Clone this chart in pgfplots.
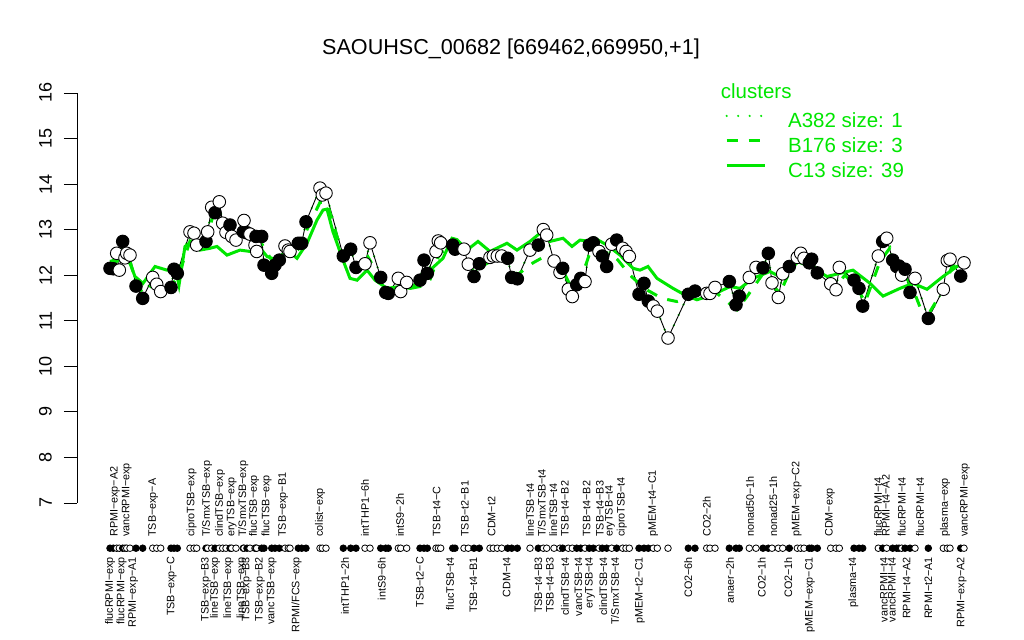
\documentclass[border=0pt]{standalone}
\usepackage{fontspec}
\setmainfont{Liberation Sans}
\usepackage{pgfplots}
\usepackage{pgfplotstable}
\pgfplotsset{compat=1.18}
\definecolor{cgreen}{RGB}{0,230,0}

\pgfplotstableread{
x y f
110 12.15 b
113.3 12.14 b
116.7 12.48 w
119.3 12.11 w
122.7 12.74 b
125 12.38 w
126.7 12.48 w
130 12.44 w
136 11.76 b
142.7 11.49 b
152.7 11.95 w
156.7 11.80 w
160.7 11.64 w
171 11.73 b
174 12.13 b
177.3 12.04 b
190 12.95 w
194 12.92 w
196.7 12.66 w
206 12.74 b
207.7 12.95 w
211.7 13.49 w
215 13.37 b
219.3 13.61 w
222.7 13.14 w
226 12.94 w
230 13.10 b
231.7 12.85 w
236 12.77 w
243.3 12.95 b
244 13.20 w
247 12.93 b
250 12.90 w
255 12.66 w
256 12.85 b
256.7 12.52 w
261.7 12.85 b
264 12.22 b
271.7 12.04 b
275 12.22 b
279.3 12.33 b
285 12.64 w
288.3 12.55 w
290 12.52 w
298.3 12.70 b
301.7 12.70 b
306 13.17 b
320 13.91 w
322.3 13.76 w
326 13.80 w
343.3 12.42 b
350.7 12.57 b
356 12.17 b
365 12.25 w
370 12.71 w
380.7 11.95 b
385.7 11.62 b
388.3 11.60 b
398.3 11.93 w
400.7 11.64 w
406.7 11.84 w
420 11.89 b
424 12.33 b
427.3 12.04 b
436 12.52 w
438.3 12.75 w
440.7 12.71 w
452.7 12.66 b
455 12.57 b
464 12.57 w
468.3 12.24 w
474 11.97 b
479.3 12.25 b
490 12.39 w
493.3 12.42 w
497.3 12.42 w
501.7 12.42 w
507.7 12.37 b
511.7 11.95 b
517.3 11.92 b
530 12.55 w
538.3 12.66 b
543.3 13.00 w
546.7 12.88 w
554 12.31 w
560 12.06 w
562.7 12.15 b
568.3 11.69 w
572.3 11.53 w
576.7 11.79 b
580.7 11.93 b
585 11.86 w
589.3 12.66 b
593.3 12.71 b
599 12.52 w
602.3 12.42 b
606.7 12.19 b
611.7 12.68 w
616.7 12.77 b
622.7 12.59 w
626 12.52 w
629.3 12.41 w
639 11.58 b
644 11.82 b
648.3 11.43 b
653.3 11.32 w
657.3 11.21 w
668 10.62 w
688.3 11.58 b
695 11.65 b
706.7 11.60 w
710 11.60 w
715 11.73 w
729.3 11.86 b
736 11.35 b
739.3 11.54 b
749.3 11.95 w
756 12.17 w
763 12.16 b
768.3 12.48 b
772 11.83 w
778.3 11.51 w
782.7 12.03 w
789.3 12.19 b
797.3 12.39 w
800.7 12.48 w
804 12.37 w
809.3 12.27 b
811.7 12.35 b
817.3 12.05 b
830.7 11.81 w
836 11.68 w
839.3 12.17 w
854 11.89 b
859 11.71 b
862.7 11.32 b
878.3 12.42 w
882.7 12.74 b
886.7 12.81 w
892.7 12.33 b
896.7 12.19 b
899 12.20 b
901.7 12.00 w
905 12.13 b
910 11.62 b
915 11.93 w
928.3 11.05 b
943.3 11.69 w
947.3 12.32 w
950 12.35 w
960.7 11.98 b
964 12.27 w
}\pts

\pgfplotstableread{
x y
110 12.30
120 12.37
130 12.26
135 11.97
143 11.82
155 12.19
167 12.11
175 12.20
179 11.78
185 12.63
192 12.74
200 12.55
210 12.59
217 12.63
227 12.44
240 12.55
250 12.52
260 12.60
267 12.41
277 12.33
287 12.55
297 12.37
307 12.70
317 13.21
323 13.43
327 13.45
333 12.95
343 12.33
350 11.93
357 11.89
367 12.11
375 11.89
387 11.71
400 11.75
410 11.71
420 11.89
430 12.11
443 12.37
452 12.81
457 12.78
467 12.55
478 12.74
490 12.52
507 12.70
517 12.55
530 12.74
540 12.92
550 12.74
563 12.81
572 12.63
580 12.77
587 12.75
595 12.81
607 12.66
620 12.44
633 12.15
640 12.11
648 12.19
657 11.93
673 11.71
687 11.54
697 11.46
713 11.57
730 11.75
740 11.71
753 11.93
770 12.08
783 11.93
797 12.30
810 12.19
827 11.97
840 12.04
853 12.11
870 11.82
883 11.54
900 11.71
913 11.82
927 11.69
943 11.97
957 12.19
964 12.25
}\cthirteen

\pgfplotstableread{
x y
110 12.20
120 12.35
130 12.30
137 11.80
143 11.60
155 11.85
162 11.70
172 11.80
178 11.95
190 12.75
197 12.70
207 12.85
213 13.30
220 13.30
228 12.95
237 12.80
245 12.95
253 12.80
260 12.75
267 12.50
275 12.20
285 12.50
292 12.45
300 12.60
307 13.00
320 13.60
327 13.60
343 12.40
352 12.40
358 12.10
368 12.40
381 11.90
388 11.65
400 11.70
408 11.70
420 11.75
430 11.90
440 12.50
455 12.60
465 12.45
475 12.00
482 12.20
495 12.35
508 12.30
517 12.00
533 12.27
547 12.44
555 12.25
563 12.10
572 11.70
580 11.85
590 12.50
600 12.45
610 12.50
618 12.33
630 12.00
645 11.70
662 11.49
677 11.42
695 11.55
717 11.60
737 11.24
747 11.53
762 12.00
770 11.85
780 11.60
790 12.10
800 12.35
812 12.25
820 12.00
835 11.75
845 12.00
858 11.70
865 11.40
880 12.30
890 12.60
900 12.15
912 11.75
920 11.30
930 11.20
945 11.75
952 12.20
964 12.20
}\bonesix

\begin{document}
\begin{tikzpicture}
\begin{axis}[
  scale only axis, width=913pt, height=410pt,
  xmin=77, xmax=990, ymin=7, ymax=16,
  clip=false,
  axis lines*=left,
  x axis line style={draw=none},
  y axis line style={black, line width=0.8pt},
  ytick={7,8,...,16},
  tick align=outside, major tick length=13pt,
  ytick style={black, line width=0.8pt},
  xtick style={draw=none},
  /pgf/number format/assume math mode=true,
  yticklabel style={xshift=-12pt, rotate=90, anchor=south, inner sep=0pt, font=\fontsize{18}{18}\selectfont},
  xtick={110,121.7,133.3,171.7,206,215,228.3,241.7,246.7,260,271.7,296.7,345,381.7,420,450,473.3,506.7,538.3,550,565,578.3,590,603.3,615,640,688.3,730,761.7,788.3,810,853.3,884,892,906.7,928.3,961.7},
  xticklabels={flucRPMI−exp,flucRPMI−exp,RPMI−exp−A1,TSB−exp−C,TSB−exp−B3,lineTSB−exp,lineTSB−exp,lineTSB−exp,TSB−exp−B3,TSB−exp−B2,vancTSB−exp,RPMI/FCS−exp,intTHP1−2h,intS9−6h,TSB−t2−C,flucTSB−t4,TSB−t4−B1,CDM−t4,TSB−t4−B3,TSB−t4−B3,clindTSB−t4,vancTSB−t4,eryTSB−t4,clindTSB−t4,T/SmxTSB−t4,pMEM−t2−C1,CO2−6h,anaer−2h,CO2−1h,CO2−1h,pMEM−exp−C1,plasma−t4,vancRPMI−t4,vancRPMI−t4,RPMI−t4−A2,RPMI−t2−A1,RPMI−exp−A2},
  xticklabel style={yshift=-41pt, rotate=90, anchor=east, inner sep=0pt, font=\fontsize{10.8}{11}\selectfont},
  extra x ticks={115,126.7,153.3,191.7,207,220,231.7,243.3,254,266.7,283.3,320,365,400,436.7,465,491.7,530,541.7,553.3,565,586.7,600,610,621.7,653.3,706.7,750,773.3,796.7,830,878,886,901.7,920,945,965},
  extra x tick labels={RPMI−exp−A2,vancRPMI−exp,TSB−exp−A,ciproTSB−exp,T/SmxTSB−exp,clindTSB−exp,eryTSB−exp,T/SmxTSB−exp,flucTSB−exp,flucTSB−exp,TSB−exp−B1,colist−exp,intTHP1−6h,intS9−2h,TSB−t4−C,TSB−t2−B1,CDM−t2,lineTSB−t4,T/SmxTSB−t4,lineTSB−t4,TSB−t4−B2,TSB−t4−B2,TSB−t4−B3,eryTSB−t4,ciproTSB−t4,pMEM−t4−C1,CO2−2h,nonad50−1h,nonad25−1h,pMEM−exp−C2,CDM−exp,flucRPMI−t4,RPMI−t4−A2,flucRPMI−t4,flucRPMI−t4,plasma−exp,vancRPMI−exp},
  extra x tick style={xticklabel style={anchor=west, xshift=20pt}, xtick style={draw=none}},
  legend style={at={(0.7097,0.9517)}, anchor=north west, draw=none, fill=none, inner sep=0pt,
    font=\fontsize{20.5}{20.5}\selectfont, text=cgreen, row sep=5pt, column sep=22pt,
    nodes={inner sep=0pt, text height=14.5pt, text depth=5.5pt}},
  legend cell align=left,
  legend image code/.code={\draw[#1] (0pt,7pt) -- (38pt,7pt);},
]
\path (axis cs:0,3.993) rectangle (axis cs:1024,18.040);
\addplot[cgreen, line width=2.4pt, line cap=round, dash pattern=on 0pt off 11.5pt] table[x=x,y=y] {\pts};
\addlegendentry{A382 size: 1}
\addplot[black, line width=0.9pt, forget plot] table[x=x,y=y] {\pts};
\addplot[scatter, only marks, forget plot, point meta=explicit symbolic,
  scatter/classes={b={mark=*, mark size=6.3pt, draw=black, fill=black, line width=0.9pt},
                   w={mark=*, mark size=6.3pt, draw=black, fill=white, line width=0.9pt}}]
  table[x=x, y=y, meta=f] {\pts};
\addplot[scatter, only marks, forget plot, point meta=explicit symbolic,
  scatter/classes={b={mark=*, mark size=3.3pt, draw=black, fill=black, line width=0.8pt},
                   w={mark=*, mark size=3.3pt, draw=black, fill=white, line width=0.8pt}}]
  table[x=x, y expr=6.006, meta=f] {\pts};
\addplot[cgreen, line width=3pt, dash pattern=on 11pt off 11pt] table[x=x,y=y] {\bonesix};
\addlegendentry{B176 size: 3}
\addplot[cgreen, line width=3pt] table[x=x,y=y] {\cthirteen};
\addlegendentry{C13 size: 39}
\node[anchor=base west, inner sep=0pt, text=cgreen, font=\fontsize{20.5}{20.5}\selectfont] at (axis cs:720.7,15.868) {clusters};
\node[anchor=base, inner sep=0pt, font=\fontsize{21.6}{21.6}\selectfont] at (axis cs:511,16.833) {SAOUHSC\_00682 [669462,669950,+1]};
\end{axis}
\end{tikzpicture}
\end{document}
